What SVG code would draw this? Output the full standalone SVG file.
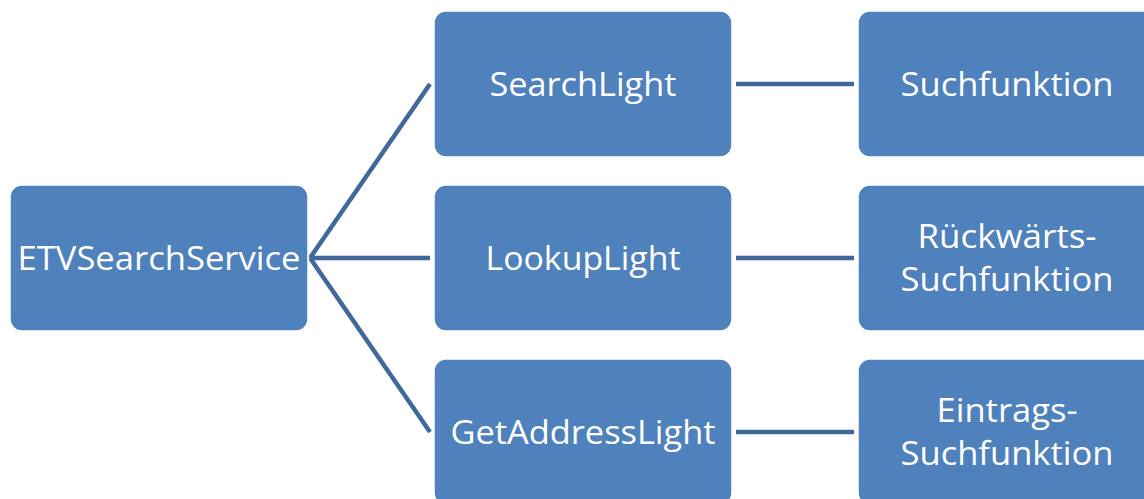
<svg xmlns="http://www.w3.org/2000/svg" width="1144" height="499" viewBox="0 0 1144 499">
<style>
.box{fill:#4F81BD;stroke:#FFFFFF;stroke-width:1.5}
.lbl{font-family:"Open Sans","Liberation Sans",sans-serif;font-size:33px;fill:#FFFFFF;text-anchor:middle}
.con{stroke:#41689A;stroke-width:4.5;fill:none}
</style>
<rect width="1144" height="499" fill="#FFFFFF"/>
<g id="connectors">
<line class="con" x1="310" y1="258" x2="430" y2="84"/>
<line class="con" x1="310" y1="258" x2="430" y2="258"/>
<line class="con" x1="310" y1="258" x2="430" y2="432"/>
<line class="con" x1="736" y1="84" x2="854" y2="84"/>
<line class="con" x1="736" y1="258" x2="854" y2="258"/>
<line class="con" x1="736" y1="432" x2="854" y2="432"/>
</g>
<g id="etv">
<rect class="box" x="10" y="185" width="298" height="146" rx="12"/>
<text class="lbl" x="159" y="270" textLength="283" lengthAdjust="spacingAndGlyphs">ETVSearchService</text>
</g>
<g id="searchlight">
<rect class="box" x="434" y="11" width="298" height="146" rx="12"/>
<text class="lbl" x="583" y="96" textLength="187" lengthAdjust="spacingAndGlyphs">SearchLight</text>
</g>
<g id="lookuplight">
<rect class="box" x="434" y="185" width="298" height="146" rx="12"/>
<text class="lbl" x="583" y="270" textLength="195" lengthAdjust="spacingAndGlyphs">LookupLight</text>
</g>
<g id="getaddresslight">
<rect class="box" x="434" y="359" width="298" height="146" rx="12"/>
<text class="lbl" x="583" y="444" textLength="265" lengthAdjust="spacingAndGlyphs">GetAddressLight</text>
</g>
<g id="suchfunktion">
<rect class="box" x="858" y="11" width="298" height="146" rx="12"/>
<text class="lbl" x="1007" y="96" textLength="213" lengthAdjust="spacingAndGlyphs">Suchfunktion</text>
</g>
<g id="rueckwaerts">
<rect class="box" x="858" y="185" width="298" height="146" rx="12"/>
<text class="lbl" x="1007" y="248" textLength="179" lengthAdjust="spacingAndGlyphs">Rückwärts-</text>
<text class="lbl" x="1007" y="291" textLength="213" lengthAdjust="spacingAndGlyphs">Suchfunktion</text>
</g>
<g id="eintrags">
<rect class="box" x="858" y="359" width="298" height="146" rx="12"/>
<text class="lbl" x="1007" y="422" textLength="141" lengthAdjust="spacingAndGlyphs">Eintrags-</text>
<text class="lbl" x="1007" y="465" textLength="213" lengthAdjust="spacingAndGlyphs">Suchfunktion</text>
</g>
</svg>
